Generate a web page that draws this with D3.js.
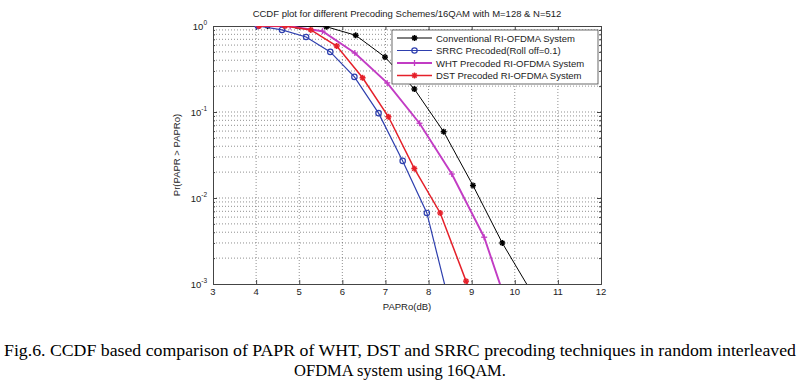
<!DOCTYPE html>
<html>
<head>
<meta charset="utf-8">
<script src="https://cdn.jsdelivr.net/npm/d3@7"></script>
<style>
  body { margin: 0; background: #fff; }
  svg { display: block; font-family: "Liberation Sans", Arial, sans-serif; }
</style>
</head>
<body>
<div class="canvas"></div>
<script>
// data (PAPRo in dB, CCDF)
const convX = [4.27, 4.95, 5.63, 6.31, 6.99, 7.67, 8.35, 9.03, 9.71, 10.39];
const convY = [1, 1, 0.98, 0.78, 0.435, 0.185, 0.059, 0.014, 0.003, 0.0008];

const srrcX = [4.04, 4.6, 5.16, 5.72, 6.28, 6.84, 7.4, 7.96, 8.52];
const srrcY = [1, 0.9, 0.745, 0.5, 0.256, 0.097, 0.027, 0.0067, 0.0005];

const whtX = [4.04, 4.79, 5.54, 6.29, 7.04, 7.79, 8.54, 9.29, 10.04];
const whtY = [1, 0.99, 0.87, 0.485, 0.218, 0.074, 0.019, 0.0035, 0.00027];

const dstX = [4.07, 4.67, 5.27, 5.87, 6.47, 7.07, 7.67, 8.27, 8.87, 9.47];
const dstY = [1, 1, 0.9, 0.585, 0.25, 0.088, 0.022, 0.0067, 0.00108, 0.00017];

const legendNames = ['Conventional RI-OFDMA System', 'SRRC Precoded(Roll off=0.1)',
  'WHT Precoded RI-OFDMA System', 'DST Precoded RI-OFDMA System'];
const xTicks = [3, 4, 5, 6, 7, 8, 9, 10, 11, 12];
const yTicks = [1, 0.1, 0.01, 0.001];
const yExp = ['0', '-1', '-2', '-3'];

const series = [
  {name: legendNames[0], xs: convX, ys: convY, color: '#000000', width: 1, marker: 'star'},
  {name: legendNames[1], xs: srrcX, ys: srrcY, color: '#2e3fae', width: 1.2, marker: 'circle'},
  {name: legendNames[2], xs: whtX, ys: whtY, color: '#c23cc4', width: 1.9, marker: 'plus'},
  {name: legendNames[3], xs: dstX, ys: dstY, color: '#e5202a', width: 1.5, marker: 'star'}
];

const width = 800, height = 386;
const margin = {left: 213, right: 601, top: 26, bottom: 284};

const svg = d3.select('.canvas')
  .append('svg')
    .attr('width', width)
    .attr('height', height);

const x = d3.scaleLinear().domain([3, 12]).range([margin.left, margin.right]);
const y = d3.scaleLog().domain([0.001, 1]).range([margin.bottom, margin.top]);

svg.append('defs').append('clipPath').attr('id', 'clip')
  .append('rect')
    .attr('x', margin.left).attr('y', margin.top)
    .attr('width', margin.right - margin.left).attr('height', margin.bottom - margin.top);

// grid
const minor = [];
[0.001, 0.01, 0.1].forEach(d => { for (let k = 1; k < 10; k++) minor.push(d * k); });
minor.push(1);

const grid = svg.append('g')
  .attr('stroke', '#444')
  .attr('stroke-width', 0.6)
  .attr('stroke-dasharray', '1,2');

grid.selectAll('.gx')
  .data(xTicks.slice(1, -1))
  .enter().append('line')
    .attr('x1', d => x(d)).attr('x2', d => x(d))
    .attr('y1', margin.top).attr('y2', margin.bottom);

grid.selectAll('.gy')
  .data(minor.filter(d => d > 0.0011 && d < 0.99))
  .enter().append('line')
    .attr('x1', margin.left).attr('x2', margin.right)
    .attr('y1', d => y(d)).attr('y2', d => y(d));

// axes (ticks inward, full box)
const frame = '#444';
const xAxisB = svg.append('g')
  .attr('transform', `translate(0, ${margin.bottom})`)
  .call(d3.axisTop(x).tickValues(xTicks).tickSize(4).tickFormat(''));
const xAxisT = svg.append('g')
  .attr('transform', `translate(0, ${margin.top})`)
  .call(d3.axisBottom(x).tickValues(xTicks).tickSize(4).tickFormat(''));
const yAxisL = svg.append('g')
  .attr('transform', `translate(${margin.left}, 0)`)
  .call(d3.axisRight(y).tickValues(minor).tickSize(2).tickFormat(''));
const yAxisR = svg.append('g')
  .attr('transform', `translate(${margin.right}, 0)`)
  .call(d3.axisLeft(y).tickValues(minor).tickSize(2).tickFormat(''));
[xAxisB, xAxisT, yAxisL, yAxisR].forEach(a => {
  a.select('.domain').attr('stroke', frame);
  a.selectAll('line').attr('stroke', frame);
});
yAxisL.selectAll('.tick line').filter(d => yTicks.includes(d)).attr('x2', 4);
yAxisR.selectAll('.tick line').filter(d => yTicks.includes(d)).attr('x2', -4);

// tick labels
svg.append('g').selectAll('text')
  .data(xTicks)
  .enter().append('text')
    .attr('x', d => x(d))
    .attr('y', margin.bottom + 11)
    .attr('text-anchor', 'middle')
    .attr('font-size', 9.5)
    .attr('fill', '#222')
    .text(d => d);

const yl = svg.append('g').selectAll('text')
  .data(yTicks)
  .enter().append('text')
    .attr('x', margin.left - 6)
    .attr('y', d => y(d) + 4)
    .attr('text-anchor', 'end')
    .attr('font-size', 9.5)
    .attr('fill', '#222');
yl.append('tspan').text('10');
yl.append('tspan')
  .attr('font-size', 6.5)
  .attr('dy', -5)
  .text((d, i) => yExp[i]);

// labels
svg.append('text')
  .attr('x', (margin.left + margin.right) / 2)
  .attr('y', 17)
  .attr('text-anchor', 'middle')
  .attr('font-size', 9.5)
  .attr('fill', '#222')
  .text('CCDF plot for different Precoding Schemes/16QAM with M=128 & N=512');

svg.append('text')
  .attr('x', (margin.left + margin.right) / 2)
  .attr('y', 310)
  .attr('text-anchor', 'middle')
  .attr('font-size', 9.5)
  .attr('fill', '#222')
  .text('PAPRo(dB)');

svg.append('text')
  .attr('transform', `translate(180, ${(margin.top + margin.bottom) / 2}) rotate(-90)`)
  .attr('text-anchor', 'middle')
  .attr('font-size', 9.5)
  .attr('fill', '#222')
  .text('Pr(PAPR > PAPRo)');

// markers
function drawMarker(g, type, cx, cy, color) {
  if (type === 'circle') {
    g.append('circle').attr('cx', cx).attr('cy', cy).attr('r', 2.7)
      .attr('fill', 'none').attr('stroke', color).attr('stroke-width', 1.2);
  } else {
    const r = 3;
    const angles = type === 'plus' ? [0, 90] : [0, 45, 90, 135];
    angles.forEach(a => {
      const dx = r * Math.cos(a * Math.PI / 180), dy = r * Math.sin(a * Math.PI / 180);
      g.append('line')
        .attr('x1', cx - dx).attr('y1', cy - dy)
        .attr('x2', cx + dx).attr('y2', cy + dy)
        .attr('stroke', color).attr('stroke-width', type === 'plus' ? 1.3 : 1.5);
    });
  }
}

const line = d3.line().x(d => x(d[0])).y(d => y(d[1]));
const plot = svg.append('g').attr('clip-path', 'url(#clip)');

series.forEach(s => {
  const pts = s.xs.map((v, i) => [v, s.ys[i]]);
  plot.append('path')
    .datum(pts)
    .attr('d', line)
    .attr('fill', 'none')
    .attr('stroke', s.color)
    .attr('stroke-width', s.width);
  const mg = plot.append('g');
  pts.forEach(p => drawMarker(mg, s.marker, x(p[0]), y(p[1]), s.color));
});

// legend
const lg = svg.append('g').attr('transform', 'translate(392, 30)');
lg.append('rect')
  .attr('width', 206).attr('height', 54)
  .attr('fill', '#fff').attr('stroke', '#444').attr('stroke-width', 0.8);
series.forEach((s, i) => {
  const ry = 8 + i * 12.5;
  lg.append('line')
    .attr('x1', 5).attr('x2', 40).attr('y1', ry).attr('y2', ry)
    .attr('stroke', s.color).attr('stroke-width', s.width);
  drawMarker(lg, s.marker, 22.5, ry, s.color);
  lg.append('text')
    .attr('x', 44).attr('y', ry + 3.5)
    .attr('font-size', 9.5)
    .attr('fill', '#222')
    .text(s.name);
});

// caption
svg.append('text')
  .attr('x', 400).attr('y', 356)
  .attr('text-anchor', 'middle')
  .attr('font-family', '"Liberation Serif", "Times New Roman", serif')
  .attr('font-size', 16.5)
  .attr('textLength', 792)
  .attr('lengthAdjust', 'spacingAndGlyphs')
  .text('Fig.6. CCDF based comparison of PAPR of WHT, DST and SRRC precoding techniques in random interleaved');
svg.append('text')
  .attr('x', 400).attr('y', 376)
  .attr('text-anchor', 'middle')
  .attr('font-family', '"Liberation Serif", "Times New Roman", serif')
  .attr('font-size', 16.5)
  .text('OFDMA system using 16QAM.');
</script>
</body>
</html>
